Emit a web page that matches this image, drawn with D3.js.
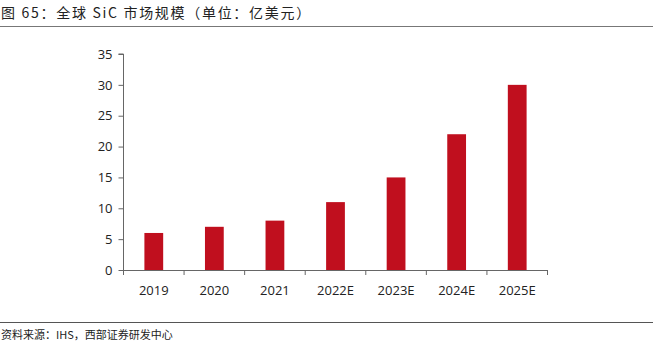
<!DOCTYPE html>
<html><head><meta charset="utf-8">
<script src="https://cdn.jsdelivr.net/npm/d3@7"></script>
<style>body{margin:0;background:#fff}svg{display:block}</style>
</head><body>
<script>
const categories = ["2019","2020","2021","2022E","2023E","2024E","2025E"];
const values = [6,7,8,11,15,22,30];
const yTicks = [0,5,10,15,20,25,30,35];
const titleText = "图 65：全球 SiC 市场规模（单位：亿美元）";
const sourceText = "资料来源：IHS，西部证券研发中心";

(function(){
const W=653,H=343;
const svg=d3.select("body").append("svg").attr("width",W).attr("height",H);
const pL=123.5,pR=547.5,pT=54,pB=270;
const x=d3.scaleBand().domain(categories).range([pL,pR]).paddingInner(0.69).paddingOuter(0.345);
const y=d3.scaleLinear().domain([0,35]).range([pB,pT]);

svg.append("text").attr("x",1).attr("y",18).attr("font-family","'Noto Sans CJK SC'").attr("font-size",14).attr("letter-spacing",1.7).attr("fill","#222").text(titleText);
svg.append("line").attr("x1",0).attr("x2",W).attr("y1",26.5).attr("y2",26.5).attr("stroke","#777").attr("stroke-width",1.2);
svg.append("line").attr("x1",0).attr("x2",W).attr("y1",322.5).attr("y2",322.5).attr("stroke","#555").attr("stroke-width",1);
svg.append("text").attr("x",1).attr("y",339).attr("font-family","'Noto Sans CJK SC'").attr("font-size",11).attr("fill","#222").text(sourceText);

svg.selectAll("rect.bar").data(values).enter().append("rect").attr("class","bar")
  .attr("x",(d,i)=>x(categories[i])).attr("width",x.bandwidth())
  .attr("y",d=>y(d)).attr("height",d=>pB-y(d)).attr("fill","#C00F1E");

const yAxis=d3.axisLeft(y).tickValues(yTicks).tickSize(5).tickPadding(6);
const gy=svg.append("g").attr("transform",`translate(${pL},0)`).call(yAxis);
gy.select(".domain").attr("stroke","#666").attr("d",`M-5,${pT}H0V${pB}`);
gy.selectAll(".tick line").attr("stroke","#666");
gy.selectAll("text").attr("font-family","'Open Sans'").attr("font-size",13).attr("fill","#222");

const bounds=categories.map(c=>x(c)-x.step()*x.paddingInner()/2).concat([pR]);
const gx=svg.append("g");
gx.append("line").attr("x1",pL).attr("x2",pR).attr("y1",pB+0.5).attr("y2",pB+0.5).attr("stroke","#666");
gx.selectAll("line.t").data(bounds).enter().append("line").attr("class","t")
  .attr("x1",d=>d).attr("x2",d=>d).attr("y1",pB).attr("y2",pB+5).attr("stroke","#666");
gx.selectAll("text").data(categories).enter().append("text")
  .attr("x",d=>x(d)+x.bandwidth()/2).attr("y",pB+25).attr("text-anchor","middle")
  .attr("font-family","'Open Sans'").attr("font-size",13).attr("fill","#222").text(d=>d);
})();
</script>
</body></html>
